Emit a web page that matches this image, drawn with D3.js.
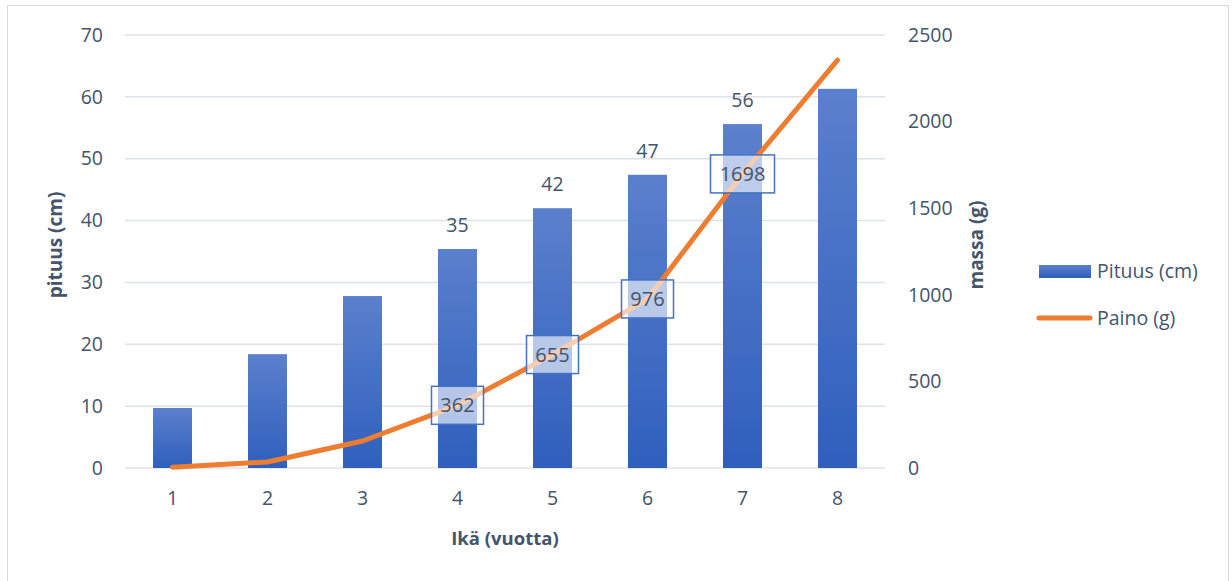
<!DOCTYPE html>
<html>
<head>
<meta charset="utf-8">
<script src="https://cdn.jsdelivr.net/npm/d3@7"></script>
<style>
  body { margin: 0; background: #fff; }
  svg text { font-family: "Open Sans", sans-serif; }
</style>
</head>
<body>
<div id="chart"></div>
<script>
// data
var ages = [1, 2, 3, 4, 5, 6, 7, 8];
var lengths = [9.7, 18.4, 27.8, 35.4, 42.0, 47.4, 55.6, 61.3];   // Pituus (cm)
var weights = [5, 35, 156, 362, 655, 976, 1698, 2355];           // Paino (g)
var lengthLabels = [null, null, null, "35", "42", "47", "56", null];
var weightLabels = [null, null, null, "362", "655", "976", "1698", null];
var leftTicks = [0, 10, 20, 30, 40, 50, 60, 70];
var rightTicks = [0, 500, 1000, 1500, 2000, 2500];

var width = 1232, height = 581;
var margin = { top: 35, right: 347, bottom: 113, left: 125 };
var textColor = "#44546a";

var svg = d3.select("#chart").append("svg")
    .attr("width", width)
    .attr("height", height);

// outer frame
svg.append("rect")
    .attr("x", 7.5).attr("y", 5.5)
    .attr("width", 1221).attr("height", 620)
    .attr("fill", "none")
    .attr("stroke", "#d9d9d9");

var defs = svg.append("defs");
var grad = defs.append("linearGradient")
    .attr("id", "barGrad")
    .attr("x1", 0).attr("y1", 0).attr("x2", 0).attr("y2", 1);
grad.append("stop").attr("offset", "0%").attr("stop-color", "#5b80cd");
grad.append("stop").attr("offset", "100%").attr("stop-color", "#2f5fbd");

var plotW = width - margin.left - margin.right,
    plotH = height - margin.top - margin.bottom;

var g = svg.append("g")
    .attr("transform", "translate(" + margin.left + "," + margin.top + ")");

var x = d3.scaleBand().domain(ages).range([0, plotW]).paddingInner(0).paddingOuter(0);
var y = d3.scaleLinear().domain([0, 70]).range([plotH, 0]);
var y2 = d3.scaleLinear().domain([0, 2500]).range([plotH, 0]);

// gridlines
g.selectAll(".grid")
    .data(leftTicks)
    .enter().append("line")
    .attr("x1", 0).attr("x2", plotW)
    .attr("y1", function (d) { return y(d); })
    .attr("y2", function (d) { return y(d); })
    .attr("stroke", "#dfe2e7")
    .attr("stroke-width", 1.5);

// left axis
var yAxis = d3.axisLeft(y).tickValues(leftTicks).tickSize(0).tickPadding(22);
g.append("g").call(yAxis)
    .call(function (a) { a.select(".domain").remove(); })
    .selectAll("text")
    .attr("fill", textColor)
    .attr("font-size", "19.5px");

// right axis
var y2Axis = d3.axisRight(y2).tickValues(rightTicks).tickFormat(d3.format("d")).tickSize(0).tickPadding(23);
g.append("g")
    .attr("transform", "translate(" + plotW + ",0)")
    .call(y2Axis)
    .call(function (a) { a.select(".domain").remove(); })
    .selectAll("text")
    .attr("fill", textColor)
    .attr("font-size", "19.5px");

// x axis
var xAxis = d3.axisBottom(x).tickSize(0).tickPadding(23);
g.append("g")
    .attr("transform", "translate(0," + plotH + ")")
    .call(xAxis)
    .call(function (a) { a.select(".domain").remove(); })
    .selectAll("text")
    .attr("fill", textColor)
    .attr("font-size", "19.5px");

// bars
var barW = 39;
g.selectAll(".bar")
    .data(lengths)
    .enter().append("rect")
    .attr("class", "bar")
    .attr("x", function (d, i) { return x(ages[i]) + x.bandwidth() / 2 - barW / 2; })
    .attr("y", function (d) { return y(d); })
    .attr("width", barW)
    .attr("height", function (d) { return plotH - y(d); })
    .attr("fill", "url(#barGrad)");

// bar labels
lengths.forEach(function (d, i) {
    if (!lengthLabels[i]) return;
    g.append("text")
        .attr("x", x(ages[i]) + x.bandwidth() / 2)
        .attr("y", y(d) - 17)
        .attr("text-anchor", "middle")
        .attr("fill", textColor)
        .attr("font-size", "19.5px")
        .text(lengthLabels[i]);
});

// weight line
var line = d3.line()
    .x(function (d, i) { return x(ages[i]) + x.bandwidth() / 2; })
    .y(function (d) { return y2(d); });

g.append("path")
    .datum(weights)
    .attr("d", line)
    .attr("fill", "none")
    .attr("stroke", "#ed7d31")
    .attr("stroke-width", 5)
    .attr("stroke-linecap", "round")
    .attr("stroke-linejoin", "round");

// boxed line labels
weights.forEach(function (d, i) {
    if (!weightLabels[i]) return;
    var cx = x(ages[i]) + x.bandwidth() / 2, cy = y2(d);
    var bw = weightLabels[i].length > 3 ? 64 : 52;
    g.append("rect")
        .attr("x", cx - bw / 2)
        .attr("y", cy - 19)
        .attr("width", bw)
        .attr("height", 38)
        .attr("fill", "#ffffff")
        .attr("fill-opacity", 0.62)
        .attr("stroke", "#4472c4")
        .attr("stroke-width", 1.5);
    g.append("text")
        .attr("x", cx)
        .attr("y", cy + 7)
        .attr("text-anchor", "middle")
        .attr("fill", textColor)
        .attr("font-size", "20px")
        .text(weightLabels[i]);
});

// axis titles
svg.append("text")
    .attr("transform", "translate(62,245) rotate(-90)")
    .attr("text-anchor", "middle")
    .attr("fill", textColor)
    .attr("font-size", "19px")
    .attr("font-weight", "bold")
    .text("pituus (cm)");

svg.append("text")
    .attr("transform", "translate(983,245) rotate(-90)")
    .attr("text-anchor", "middle")
    .attr("fill", textColor)
    .attr("font-size", "19px")
    .attr("font-weight", "bold")
    .text("massa (g)");

svg.append("text")
    .attr("x", margin.left + plotW / 2)
    .attr("y", 545)
    .attr("text-anchor", "middle")
    .attr("fill", textColor)
    .attr("font-size", "18.5px")
    .attr("font-weight", "bold")
    .text("Ikä (vuotta)");

// legend
var legend = svg.append("g");
legend.append("rect")
    .attr("x", 1039).attr("y", 265)
    .attr("width", 52).attr("height", 13)
    .attr("fill", "url(#barGrad)");
legend.append("text")
    .attr("x", 1097).attr("y", 278)
    .attr("fill", textColor)
    .attr("font-size", "19.5px")
    .text("Pituus (cm)");
legend.append("line")
    .attr("x1", 1039).attr("x2", 1090)
    .attr("y1", 318).attr("y2", 318)
    .attr("stroke", "#ed7d31")
    .attr("stroke-width", 5)
    .attr("stroke-linecap", "round");
legend.append("text")
    .attr("x", 1097).attr("y", 325)
    .attr("fill", textColor)
    .attr("font-size", "19.5px")
    .text("Paino (g)");
</script>
</body>
</html>
